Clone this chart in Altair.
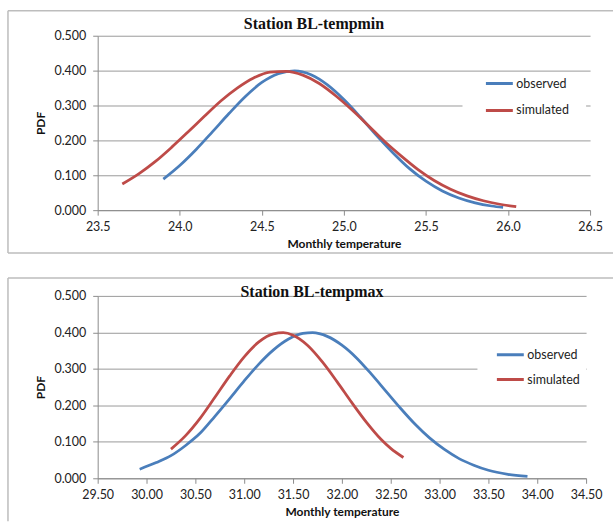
import altair as alt
import pandas as pd

# ---------------- data ----------------
titles = ["Station BL-tempmin", "Station BL-tempmax"]
series_names = ["observed", "simulated"]

tmin_obs_x = [23.90, 24.00, 24.10, 24.20, 24.30, 24.40, 24.50, 24.60, 24.70, 24.80, 24.90,
              25.00, 25.10, 25.20, 25.30, 25.40, 25.50, 25.60, 25.70, 25.80, 25.90, 25.97]
tmin_obs_y = [0.089, 0.128, 0.174, 0.225, 0.277, 0.326, 0.366, 0.391, 0.399, 0.388, 0.359,
              0.317, 0.267, 0.214, 0.164, 0.119, 0.083, 0.055, 0.035, 0.021, 0.012, 0.008]
tmin_sim_x = [23.65, 23.75, 23.85, 23.95, 24.05, 24.15, 24.25, 24.35, 24.45, 24.55, 24.65,
              24.75, 24.85, 24.95, 25.05, 25.15, 25.25, 25.35, 25.45, 25.55, 25.65, 25.75,
              25.85, 25.95, 26.05]
tmin_sim_y = [0.075, 0.104, 0.139, 0.180, 0.224, 0.269, 0.313, 0.350, 0.379, 0.396, 0.398,
              0.387, 0.363, 0.328, 0.287, 0.242, 0.196, 0.155, 0.117, 0.085, 0.060, 0.041,
              0.027, 0.017, 0.010]

tmax_obs_x = [29.93, 30.10, 30.25, 30.40, 30.55, 30.70, 30.85, 31.00, 31.15, 31.30, 31.45,
              31.60, 31.70, 31.85, 32.00, 32.15, 32.30, 32.45, 32.60, 32.75, 32.90, 33.05,
              33.20, 33.35, 33.50, 33.70, 33.90]
tmax_obs_y = [0.025, 0.043, 0.062, 0.090, 0.124, 0.170, 0.218, 0.267, 0.313, 0.352, 0.381,
              0.397, 0.399, 0.389, 0.365, 0.330, 0.286, 0.239, 0.192, 0.148, 0.110, 0.079,
              0.054, 0.036, 0.022, 0.011, 0.005]
tmax_sim_x = [30.25, 30.40, 30.55, 30.70, 30.85, 31.00, 31.15, 31.30, 31.40, 31.50, 31.65,
              31.80, 31.95, 32.10, 32.25, 32.40, 32.50, 32.63]
tmax_sim_y = [0.080, 0.117, 0.165, 0.222, 0.280, 0.333, 0.374, 0.396, 0.399, 0.392, 0.364,
              0.319, 0.265, 0.208, 0.154, 0.107, 0.082, 0.057]

top_x_ticks = [23.5, 24.0, 24.5, 25.0, 25.5, 26.0, 26.5]
bot_x_ticks = [29.5, 30.0, 30.5, 31.0, 31.5, 32.0, 32.5, 33.0, 33.5, 34.0, 34.5]
y_ticks = [0.0, 0.1, 0.2, 0.3, 0.4, 0.5]

BLUE = "#4A7EBB"
RED = "#BE4B48"
GRID = "#9A9A9A"
FRAME = "#BDBDBD"
LABEL_FONT = "Lato"
TITLE_FONT = "Liberation Serif"


def long_df(ox, oy, sx, sy):
    rows = [{"t": x, "pdf": y, "series": series_names[0]} for x, y in zip(ox, oy)]
    rows += [{"t": x, "pdf": y, "series": series_names[1]} for x, y in zip(sx, sy)]
    return pd.DataFrame(rows)


def panel(df, title, xticks, xfmt, w, h, title_xy, legend_xy, clip_h, box, frame):
    one = pd.DataFrame({"k": [0]})
    fl, ft, fr, fb, bottom_border = frame
    rules = []
    # frame (decoration around the chart area)
    rules.append(alt.Chart(one).mark_rule(color=FRAME, strokeWidth=1.5).encode(
        x=alt.value(fl), x2=alt.value(fr), y=alt.value(ft)))
    rules.append(alt.Chart(one).mark_rule(color=FRAME, strokeWidth=1.5).encode(
        x=alt.value(fl), y=alt.value(ft), y2=alt.value(fb)))
    if bottom_border:
        rules.append(alt.Chart(one).mark_rule(color=FRAME, strokeWidth=1.5).encode(
            x=alt.value(fl), x2=alt.value(fr), y=alt.value(fb)))
    # white legend box covering gridlines
    bx, by, bx2, by2 = box
    white = alt.Chart(one).mark_rect(color="white").encode(
        x=alt.value(bx), x2=alt.value(bx2), y=alt.value(by), y2=alt.value(by2))

    lines = alt.Chart(df).mark_line(interpolate="monotone", strokeWidth=2.75).encode(
        x=alt.X("t:Q", title="Monthly temperature",
                scale=alt.Scale(domain=[xticks[0], xticks[-1]], nice=False, zero=False),
                axis=alt.Axis(values=xticks, format=xfmt, grid=False,
                              labelFlush=False, labelOverlap=False)),
        y=alt.Y("pdf:Q", title="PDF",
                scale=alt.Scale(domain=[0, 0.5], nice=False),
                axis=alt.Axis(values=y_ticks, format=".3f", grid=True,
                              labelFlush=False, labelOverlap=False)),
        color=alt.Color("series:N",
                        scale=alt.Scale(domain=series_names, range=[BLUE, RED]),
                        legend=alt.Legend(title=None, orient="none",
                                          legendX=legend_xy[0], legendY=legend_xy[1],
                                          symbolType="stroke", symbolSize=729,
                                          symbolStrokeWidth=3, labelFont=LABEL_FONT,
                                          labelFontSize=12.5, labelColor="#222222",
                                          labelOffset=2, rowPadding=0, padding=0,
                                          clipHeight=clip_h)),
        detail="series:N",
    )
    ttl = alt.Chart(pd.DataFrame({"txt": [title]})).mark_text(
        font=TITLE_FONT, fontSize=16, fontWeight="bold", color="#111111",
        baseline="middle", align="center").encode(
        text="txt:N", x=alt.value(title_xy[0]), y=alt.value(title_xy[1]))
    return alt.layer(*rules, white, lines, ttl).properties(width=w, height=h)


top_df = long_df(tmin_obs_x, tmin_obs_y, tmin_sim_x, tmin_sim_y)
bot_df = long_df(tmax_obs_x, tmax_obs_y, tmax_sim_x, tmax_sim_y)

top = panel(top_df, titles[0], top_x_ticks, ".1f", 494, 175,
            title_xy=(217, -12), legend_xy=(388, 34.5), clip_h=27,
            box=(366, 40, 490, 83), frame=(-90, -25, 517, 218, True))
bot = panel(bot_df, titles[1], bot_x_ticks, ".2f", 490, 183,
            title_xy=(215, -4), legend_xy=(399, 46.5), clip_h=25,
            box=(381, 46, 490, 96), frame=(-90, -18, 517, 226, False))

chart = alt.vconcat(top, bot, spacing=23).resolve_scale(
    x="independent", y="independent", color="independent"
).resolve_legend(color="independent").properties(
    padding={"left": 7, "top": 9, "right": 0, "bottom": 0}
).configure_view(stroke=None).configure_axis(
    domainColor="#8C8C8C", tickColor="#8C8C8C", gridColor=GRID, gridWidth=1,
    tickSize=5, labelFont=LABEL_FONT, labelFontSize=12.5, labelColor="#222222",
    titleFont=LABEL_FONT, titleFontSize=12, titleFontWeight="bold", titleColor="#111111",
    labelPadding=6, titlePadding=5,
).configure_axisX(labelPadding=5, titlePadding=6).configure_axisY(labelPadding=7, titlePadding=6)

chart.save("out.html", embed_options={"renderer": "svg", "actions": False})
